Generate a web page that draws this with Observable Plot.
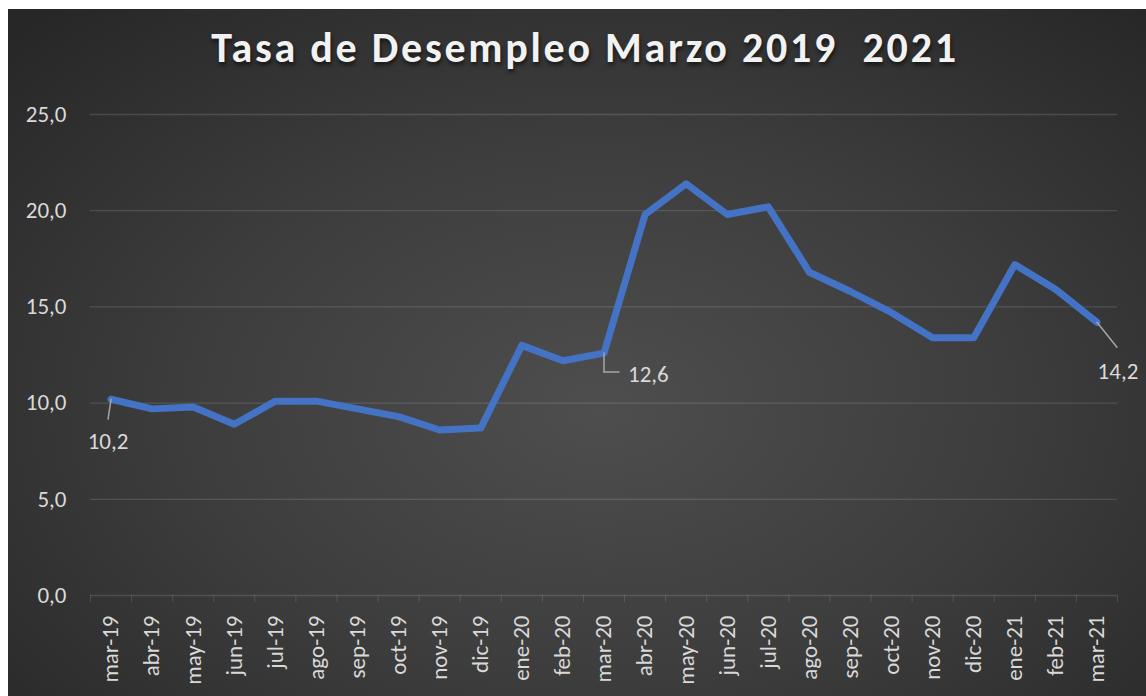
<!DOCTYPE html>
<html>
<head>
<meta charset="utf-8">
<script src="https://cdn.jsdelivr.net/npm/d3@7"></script>
<script src="https://cdn.jsdelivr.net/npm/@observablehq/plot@0.6"></script>
<style>
  html, body { margin: 0; padding: 0; background: #ffffff; width: 1146px; height: 696px; overflow: hidden; }
  #panel {
    position: absolute; left: 8px; top: 9px; width: 1138px; height: 687px;
    background: radial-gradient(ellipse 72% 78% at 52% 58%, #4e4e4e 0%, #3d3d3d 50%, #272727 100%);
    font-family: Carlito, Calibri, Lato, sans-serif;
  }
  #title {
    position: absolute; left: 0; top: 15px; width: 1138px; padding-left: 16px; box-sizing: border-box;
    text-align: center; color: #f2f2f2; font-weight: 700; font-size: 42px; letter-spacing: 2.75px;
    line-height: 48px; text-shadow: 1px 3px 4px rgba(0,0,0,0.6);
  }
  #chart { position: absolute; left: 0; top: 80px; }
</style>
</head>
<body>
<div id="panel">
  <div id="title">Tasa de Desempleo Marzo 2019&nbsp;&nbsp;2021</div>
  <div id="chart"></div>
</div>
<script>
const months = ["mar-19","abr-19","may-19","jun-19","jul-19","ago-19","sep-19","oct-19","nov-19","dic-19",
  "ene-20","feb-20","mar-20","abr-20","may-20","jun-20","jul-20","ago-20","sep-20","oct-20","nov-20","dic-20",
  "ene-21","feb-21","mar-21"];
const rates = [10.2, 9.7, 9.8, 8.9, 10.1, 10.1, 9.7, 9.3, 8.6, 8.7,
  13.0, 12.2, 12.6, 19.8, 21.4, 19.8, 20.2, 16.8, 15.8, 14.7, 13.4, 13.4,
  17.2, 15.9, 14.2];
const yTicks = [0, 5, 10, 15, 20, 25];
const labelled = ["mar-19", "mar-20", "mar-21"];

const data = months.map((m, i) => ({i, month: m, rate: rates[i]}));
const lab = m => data.filter(d => d.month === m);
const fmt = v => v.toFixed(1).replace(".", ",");
const boundaries = d3.range(months.length + 1).map(k => k - 0.5);
const line = {draw(ctx, l) { ctx.moveTo(0, 0); ctx.lineTo(0, -l); }};
const leader = {stroke: "#a6a6a6", strokeWidth: 1.5, shape: line, anchor: "start"};
const lblStyle = {fill: "#d9d9d9", fontSize: 23, text: d => fmt(d.rate)};

const chart = Plot.plot({
  width: 1138, height: 607,
  marginTop: 25, marginBottom: 101, marginLeft: 82, marginRight: 29,
  style: {background: "transparent", color: "#d9d9d9", fontFamily: "Carlito, Calibri, Lato, sans-serif", fontSize: "23px", overflow: "visible"},
  x: {type: "linear", domain: [-0.5, months.length - 0.5]},
  y: {domain: [0, 25]},
  marks: [
    Plot.gridY(yTicks.filter(t => t > 0), {stroke: "#ffffff", strokeOpacity: 0.13, strokeWidth: 1.3}),
    Plot.axisY({ticks: yTicks, tickSize: 0, tickPadding: 24, tickFormat: fmt, fill: "#d9d9d9", fontSize: 23, label: null}),
    Plot.ruleY([0], {stroke: "#ffffff", strokeOpacity: 0.13, strokeWidth: 1.3}),
    Plot.axisX({ticks: boundaries, tickSize: 7, tickFormat: () => "", stroke: "#ffffff", strokeOpacity: 0.13, label: null}),
    Plot.axisX({ticks: d3.range(months.length), tickSize: 0, tickPadding: 20, tickRotate: -90,
      tickFormat: i => months[i], fill: "#d9d9d9", fontSize: 23, label: null}),
    Plot.line(data, {x: "i", y: "rate", stroke: "#4472C4", strokeWidth: 7, strokeLinejoin: "round", strokeLinecap: "round",
      style: {filter: "drop-shadow(0px 3px 3px rgba(0,0,0,0.45))"}}),
    Plot.vector(lab(labelled[0]), {x: "i", y: "rate", length: 20, rotate: 188.5, ...leader}),
    Plot.vector(lab(labelled[1]), {x: "i", y: "rate", length: 19, rotate: 180, ...leader}),
    Plot.vector(lab(labelled[1]), {x: "i", y: "rate", length: 15, rotate: 90, dy: 19, ...leader}),
    Plot.vector(lab(labelled[2]), {x: "i", y: "rate", length: 32, rotate: 141.3, ...leader}),
    Plot.text(lab(labelled[0]), {x: "i", y: "rate", dx: -3, dy: 42, textAnchor: "middle", ...lblStyle}),
    Plot.text(lab(labelled[1]), {x: "i", y: "rate", dx: 24, dy: 22, textAnchor: "start", ...lblStyle}),
    Plot.text(lab(labelled[2]), {x: "i", y: "rate", dx: 21, dy: 49, textAnchor: "middle", ...lblStyle})
  ]
});
document.getElementById("chart").appendChild(chart);
</script>
</body>
</html>
